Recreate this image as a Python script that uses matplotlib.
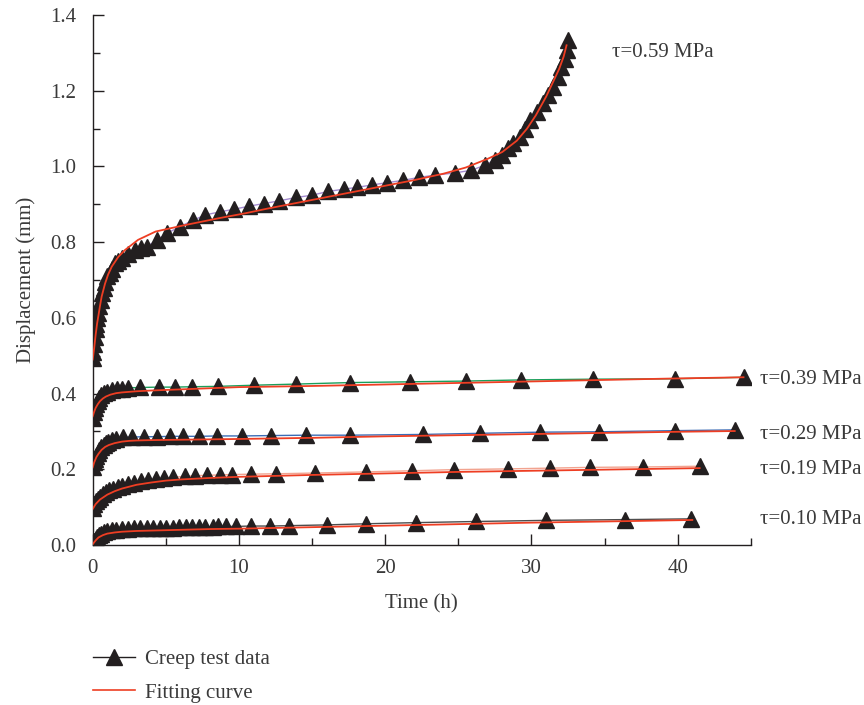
import matplotlib
matplotlib.use("Agg")
import matplotlib.pyplot as plt
from matplotlib.ticker import MultipleLocator
from matplotlib.lines import Line2D

plt.rcParams['font.family'] = ['Liberation Serif', 'DejaVu Serif']
plt.rcParams['mathtext.fontset'] = 'stix'

# ---------------- data ----------------
# tau = 0.59 MPa
t59 = [0, 0.05, 0.1, 0.15, 0.2, 0.25, 0.3, 0.38, 0.45, 0.55, 0.65, 0.75, 0.85, 1.0, 1.18, 1.35,
       1.52, 1.75, 1.98, 2.4, 2.9, 3.3, 3.7, 4.4, 5.06, 5.97, 6.88, 7.7, 8.7, 9.66, 10.7, 11.7,
       12.75, 13.9, 15.0, 16.1, 17.2, 18.1, 19.1, 20.1, 21.2, 22.3, 23.4, 24.8, 25.9, 26.8, 27.5,
       28.0, 28.4, 28.75, 29.2, 29.55, 29.9, 30.35, 30.8, 31.15, 31.5, 31.8, 32.05, 32.3, 32.45, 32.5]
d59 = [0.493, 0.51, 0.53, 0.55, 0.57, 0.585, 0.60, 0.612, 0.63, 0.648, 0.665, 0.68, 0.695, 0.71,
       0.718, 0.73, 0.744, 0.750, 0.757, 0.768, 0.779, 0.785, 0.788, 0.806, 0.823, 0.841, 0.858,
       0.872, 0.880, 0.887, 0.895, 0.902, 0.909, 0.918, 0.924, 0.934, 0.940, 0.945, 0.951, 0.957,
       0.963, 0.971, 0.977, 0.983, 0.990, 1.003, 1.017, 1.030, 1.048, 1.061, 1.078, 1.100, 1.123,
       1.144, 1.167, 1.189, 1.210, 1.237, 1.263, 1.285, 1.307, 1.334]
tf59 = [0, 0.1, 0.2, 0.3, 0.4, 0.5, 0.61, 0.84, 1.05, 1.3, 1.75, 2.2, 3.1, 4.3, 6.3, 8.6, 10.4,
        12, 14, 16, 18, 20, 22, 24, 25.5, 27, 28, 29, 29.7, 30.3, 31.0, 31.5, 31.9, 32.2, 32.4]
df59 = [0.490, 0.520, 0.555, 0.585, 0.608, 0.632, 0.656, 0.690, 0.714, 0.735, 0.761, 0.779, 0.806,
        0.828, 0.845, 0.863, 0.876, 0.889, 0.904, 0.919, 0.934, 0.949, 0.964, 0.981, 0.997, 1.020,
        1.038, 1.068, 1.100, 1.135, 1.184, 1.225, 1.258, 1.290, 1.320]

# tau = 0.39 MPa
t39 = [0, 0.08, 0.16, 0.25, 0.35, 0.45, 0.6, 0.75, 0.95, 1.3, 1.64, 2.0, 2.4, 3.2, 4.5, 5.6, 6.8,
       8.6, 11.0, 13.9, 17.6, 21.7, 25.5, 29.3, 34.2, 39.8, 44.5]
d39 = [0.335, 0.350, 0.362, 0.372, 0.381, 0.389, 0.396, 0.401, 0.405, 0.409, 0.411, 0.413, 0.415,
       0.416, 0.417, 0.417, 0.418, 0.419, 0.422, 0.425, 0.429, 0.431, 0.433, 0.436, 0.438, 0.439, 0.443]
tf39 = [0, 0.1, 0.2, 0.35, 0.5, 0.7, 0.9, 1.2, 1.6, 2, 3, 4, 6, 8, 10, 15, 20, 25, 30, 35, 40, 44.5]
df39 = [0.340, 0.352, 0.362, 0.372, 0.380, 0.387, 0.392, 0.397, 0.401, 0.403, 0.406, 0.408, 0.411,
        0.414, 0.417, 0.420, 0.424, 0.428, 0.432, 0.436, 0.440, 0.443]

# tau = 0.29 MPa
t29 = [0, 0.08, 0.16, 0.25, 0.35, 0.45, 0.6, 0.75, 0.9, 1.05, 1.3, 1.6, 2.1, 2.7, 3.5, 4.4, 5.3,
       6.2, 7.3, 8.5, 10.2, 12.2, 14.6, 17.6, 22.6, 26.5, 30.6, 34.6, 39.8, 43.9]
d29 = [0.207, 0.218, 0.228, 0.236, 0.244, 0.251, 0.258, 0.264, 0.269, 0.273, 0.277, 0.281, 0.284,
       0.285, 0.286, 0.286, 0.287, 0.287, 0.287, 0.288, 0.288, 0.289, 0.290, 0.290, 0.292, 0.295,
       0.298, 0.299, 0.302, 0.304]
tf29 = [0, 0.1, 0.25, 0.4, 0.6, 0.85, 1.1, 1.5, 2, 2.5, 3, 4, 6, 8, 10, 15, 20, 25, 30, 35, 40, 43.9]
df29 = [0.205, 0.218, 0.232, 0.241, 0.251, 0.259, 0.264, 0.269, 0.273, 0.275, 0.276, 0.277, 0.278,
        0.279, 0.280, 0.283, 0.287, 0.290, 0.293, 0.296, 0.299, 0.301]

# tau = 0.19 MPa
t19 = [0, 0.1, 0.2, 0.35, 0.5, 0.7, 0.9, 1.1, 1.4, 1.7, 2.0, 2.4, 2.8, 3.3, 3.8, 4.3, 4.9, 5.5,
       6.3, 7.0, 7.8, 8.7, 9.5, 10.8, 12.5, 15.2, 18.7, 21.8, 24.7, 28.4, 31.3, 34.0, 37.6, 41.5]
d19 = [0.098, 0.108, 0.115, 0.122, 0.128, 0.134, 0.139, 0.144, 0.149, 0.153, 0.157, 0.161, 0.165,
       0.168, 0.171, 0.174, 0.177, 0.179, 0.181, 0.183, 0.184, 0.185, 0.186, 0.187, 0.188, 0.190,
       0.193, 0.196, 0.199, 0.201, 0.203, 0.205, 0.206, 0.208]
tf19 = [0, 0.2, 0.5, 1, 1.5, 2, 3, 4, 5, 6, 8, 10, 15, 20, 25, 30, 35, 41.5]
df19 = [0.095, 0.108, 0.120, 0.133, 0.142, 0.149, 0.159, 0.165, 0.170, 0.173, 0.177, 0.180, 0.185,
        0.189, 0.193, 0.196, 0.199, 0.203]

# tau = 0.10 MPa
t10 = [0, 0.1, 0.2, 0.3, 0.45, 0.6, 0.8, 1.0, 1.3, 1.6, 2.0, 2.4, 2.8, 3.2, 3.7, 4.1, 4.6, 5.0,
       5.5, 5.9, 6.4, 6.8, 7.3, 7.7, 8.2, 8.6, 9.1, 9.8, 10.8, 12.1, 13.4, 16.0, 18.7, 22.1, 26.2,
       31.0, 36.4, 40.9]
d10 = [0.004, 0.010, 0.016, 0.021, 0.026, 0.030, 0.034, 0.037, 0.039, 0.040, 0.042, 0.043, 0.044,
       0.044, 0.045, 0.045, 0.046, 0.046, 0.046, 0.047, 0.047, 0.047, 0.048, 0.048, 0.048, 0.049,
       0.049, 0.049, 0.050, 0.050, 0.051, 0.053, 0.056, 0.059, 0.062, 0.065, 0.067, 0.069]
tf10 = [0, 0.2, 0.4, 0.7, 1.0, 1.5, 2, 3, 4, 6, 8, 10, 15, 20, 25, 30, 35, 41]
df10 = [0.002, 0.012, 0.020, 0.026, 0.030, 0.033, 0.035, 0.037, 0.038, 0.040, 0.042, 0.043, 0.047,
        0.051, 0.055, 0.059, 0.062, 0.066]

labels = ["τ=0.59 MPa", "τ=0.39 MPa", "τ=0.29 MPa", "τ=0.19 MPa", "τ=0.10 MPa"]

# ---------------- plot ----------------
FS = 15
TXT = '#3a3a3a'
fig = plt.figure(figsize=(8.64, 7.05), dpi=100)
ax = fig.add_axes([0.1073, 0.2270, 0.7617, 0.7517])

FIT = '#ee3e23'
MK = '#231f20'
series = [
    (t59, d59, tf59, df59, '#a48bd0'),
    (t39, d39, tf39, df39, '#1a9e5a'),
    (t29, d29, tf29, df29, '#3b6cb5'),
    (t19, d19, tf19, df19, '#f2a38f'),
    (t10, d10, tf10, df10, '#4d4d4d'),
]
for t, d, tf, df, c in series:
    ax.plot(t, d, color=c, lw=1.0, zorder=2)
    ax.plot(t, d, ls='none', marker='^', ms=11, color=MK, mec=MK, zorder=3)
    ax.plot(tf, df, color=FIT, lw=1.3, zorder=4)

ax.set_xlim(0, 45)
ax.set_ylim(0, 1.4)
ax.xaxis.set_major_locator(MultipleLocator(10))
ax.xaxis.set_minor_locator(MultipleLocator(5))
ax.yaxis.set_major_locator(MultipleLocator(0.2))
ax.yaxis.set_minor_locator(MultipleLocator(0.1))
ax.yaxis.set_major_formatter(matplotlib.ticker.FormatStrFormatter('%.1f'))
for s in ['top', 'right']:
    ax.spines[s].set_visible(False)
for s in ['left', 'bottom']:
    ax.spines[s].set_linewidth(1.0)
    ax.spines[s].set_color('#231f20')
ax.tick_params(which='major', direction='in', length=8, width=1.0, labelsize=FS,
               colors='#231f20', labelcolor=TXT)
ax.tick_params(which='minor', direction='in', length=5, width=1.0, colors='#231f20')
ax.tick_params(axis='x', which='major', pad=10)
ax.tick_params(axis='y', which='major', pad=12)

ax.set_xlabel('Time (h)', fontsize=FS, color=TXT, labelpad=12)
ax.set_ylabel('Displacement (mm)', fontsize=FS, color=TXT, labelpad=10)

# curve labels
ax.text(35.5, 1.30, labels[0], fontsize=FS, color=TXT, va='center', ha='left')
ax.text(45.6, 0.437, labels[1], fontsize=FS, color=TXT, va='center', ha='left', clip_on=False)
ax.text(45.6, 0.292, labels[2], fontsize=FS, color=TXT, va='center', ha='left', clip_on=False)
ax.text(45.6, 0.200, labels[3], fontsize=FS, color=TXT, va='center', ha='left', clip_on=False)
ax.text(45.6, 0.068, labels[4], fontsize=FS, color=TXT, va='center', ha='left', clip_on=False)

handles = [Line2D([], [], color=MK, lw=1.0, marker='^', ms=11, mec=MK, mfc=MK),
           Line2D([], [], color=FIT, lw=1.2)]
fig.legend(handles, ['Creep test data', 'Fitting curve'], loc='upper left',
           bbox_to_anchor=(0.098, 0.090), frameon=False, fontsize=FS,
           handlelength=2.0, handletextpad=0.5, labelspacing=0.65, labelcolor=TXT,
           borderaxespad=0)

fig.savefig('out.png', dpi=100)
